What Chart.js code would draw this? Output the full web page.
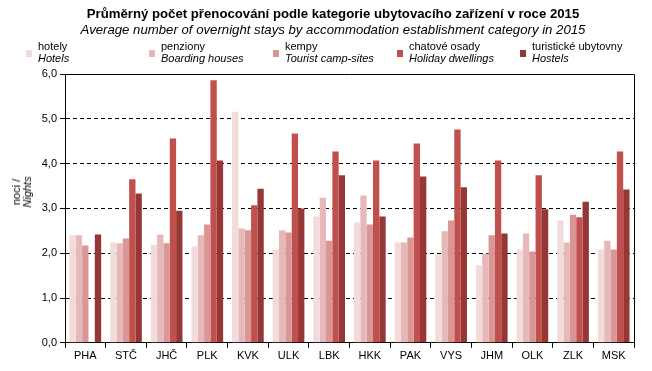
<!DOCTYPE html>
<html>
<head>
<meta charset="utf-8">
<script src="https://cdn.jsdelivr.net/npm/chart.js@4"></script>
<style>
  body { margin: 0; background: #fff; font-family: Arial, "Liberation Sans", sans-serif; }
  #wrap { position: relative; width: 652px; height: 371px; }
  #title { position: absolute; left: 0; width: 666px; top: 6px; text-align: center; font-size: 13.2px; font-weight: bold; color: #000; white-space: nowrap; }
  #subtitle { position: absolute; left: 0; width: 666px; top: 22px; text-align: center; font-size: 13.2px; font-style: italic; color: #000; white-space: nowrap; }
  .leg { position: absolute; top: 41px; font-size: 11px; line-height: 11.5px; color: #000; white-space: nowrap; }
  .leg i { font-style: italic; }
  .mark { position: absolute; width: 6px; height: 7px; top: 50px; }
  #ytitle { position: absolute; left: 22px; top: 192px; transform: translate(-50%, -50%) rotate(-90deg); font-size: 11px; line-height: 11px; text-align: center; white-space: nowrap; }
  canvas { position: absolute; left: 0; top: 0; }
</style>
</head>
<body>
<div id="wrap">
  <canvas id="myChart" width="652" height="371"></canvas>
  <div id="title">Průměrný počet přenocování podle kategorie ubytovacího zařízení v roce 2015</div>
  <div id="subtitle">Average number of overnight stays by accommodation establishment category in 2015</div>
  <div id="legend"></div>
  <div id="ytitle">noci /<br><i>Nights</i></div>
</div>
<script>
const categories = ['PHA', 'STČ', 'JHČ', 'PLK', 'KVK', 'ULK', 'LBK', 'HKK', 'PAK', 'VYS', 'JHM', 'OLK', 'ZLK', 'MSK'];

const hotely      = [2.40, 2.24, 2.19, 2.15, 5.16, 2.08, 2.82, 2.69, 2.24, 1.97, 1.73, 2.08, 2.73, 2.08];
const penziony    = [2.40, 2.22, 2.42, 2.40, 2.55, 2.51, 3.24, 3.29, 2.24, 2.49, 1.99, 2.44, 2.24, 2.28];
const kempy       = [2.17, 2.33, 2.22, 2.64, 2.51, 2.46, 2.28, 2.64, 2.35, 2.73, 2.40, 2.04, 2.86, 2.08];
const chatove     = [null, 3.65, 4.56, 5.86, 3.07, 4.67, 4.27, 4.07, 4.45, 4.76, 4.07, 3.74, 2.80, 4.27];
const ubytovny    = [2.42, 3.33, 2.95, 4.07, 3.44, 3.00, 3.74, 2.82, 3.71, 3.47, 2.44, 2.98, 3.15, 3.42];

const seriesCz = ['hotely', 'penziony', 'kempy', 'chatové osady', 'turistické ubytovny'];
const seriesEn = ['Hotels', 'Boarding houses', 'Tourist camp-sites', 'Holiday dwellings', 'Hostels'];
const colors = ['#F2DCDB', '#E6B9B8', '#D99694', '#C0504D', '#953735'];
const yTicks = [0, 1, 2, 3, 4, 5, 6];

// legenda
const legendX = [26, 149, 273, 397, 520];
const legend = document.getElementById('legend');
seriesCz.forEach((name, i) => {
    const m = document.createElement('div');
    m.className = 'mark';
    m.style.left = legendX[i] + 'px';
    m.style.background = colors[i];
    legend.appendChild(m);
    const t = document.createElement('div');
    t.className = 'leg';
    t.style.left = (legendX[i] + 12) + 'px';
    t.innerHTML = name + '<br><i>' + seriesEn[i] + '</i>';
    legend.appendChild(t);
});

// rámeček nahoře a vpravo
const frame = {
    id: 'frame',
    afterDraw(chart) {
        const a = chart.chartArea;
        const c = chart.ctx;
        c.save();
        c.strokeStyle = '#000';
        c.lineWidth = 1;
        c.setLineDash([]);
        c.beginPath();
        c.moveTo(a.left, a.top + 0.5);
        c.lineTo(a.right + 0.5, a.top + 0.5);
        c.lineTo(a.right + 0.5, a.bottom);
        c.stroke();
        c.restore();
    }
};

const allData = [hotely, penziony, kempy, chatove, ubytovny];
const ctx = document.getElementById('myChart').getContext('2d');
const myChart = new Chart(ctx, {
    type: 'bar',
    data: {
        labels: categories,
        datasets: allData.map((d, i) => ({
            label: seriesCz[i],
            data: d,
            backgroundColor: colors[i],
            borderWidth: 0,
            categoryPercentage: 0.78,
            barPercentage: 1
        }))
    },
    options: {
        responsive: false,
        animation: false,
        layout: { padding: { top: 74, right: 18, bottom: 6, left: 0 } },
        plugins: {
            legend: { display: false },
            title: { display: false },
            tooltip: { enabled: false }
        },
        scales: {
            x: {
                grid: {
                    drawOnChartArea: false,
                    drawTicks: true,
                    tickLength: 5,
                    tickColor: '#000',
                    offset: true
                },
                border: { color: '#000', width: 1 },
                ticks: {
                    color: '#000',
                    font: { family: 'Arial, "Liberation Sans"', size: 11 },
                    padding: 2,
                    maxRotation: 0
                }
            },
            y: {
                min: 0,
                max: 6,
                afterBuildTicks: (axis) => { axis.ticks = yTicks.map(v => ({ value: v })); },
                afterFit: (axis) => { axis.width = 65; },
                grid: {
                    color: (c) => (c.tick && c.tick.value > 0 && c.tick.value < 6) ? '#000' : 'rgba(0,0,0,0)',
                    tickColor: '#000',
                    tickLength: 5,
                    tickBorderDash: [],
                    lineWidth: 1
                },
                border: { color: '#000', width: 1, dash: [4, 3] },
                ticks: {
                    color: '#000',
                    font: { family: 'Arial, "Liberation Sans"', size: 11 },
                    padding: 3,
                    callback: (v) => v.toFixed(1).replace('.', ',')
                }
            }
        }
    },
    plugins: [frame]
});
</script>
</body>
</html>
